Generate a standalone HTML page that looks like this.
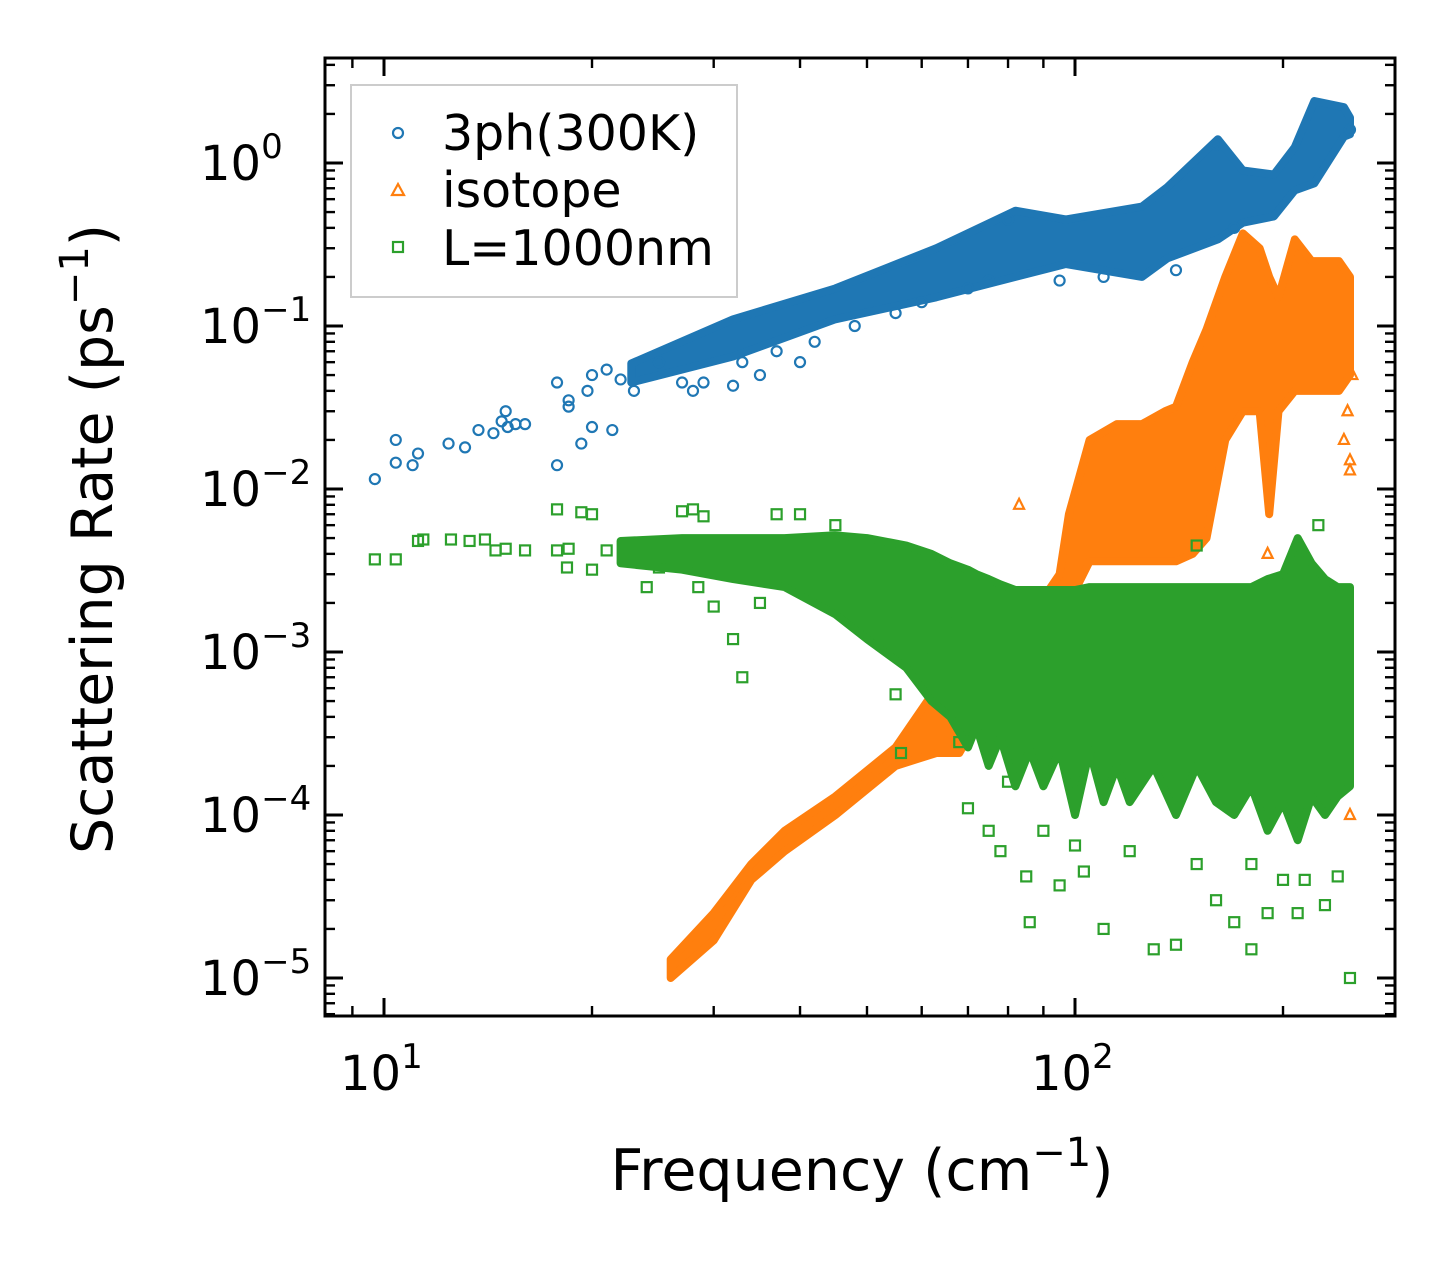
<!DOCTYPE html>
<html><head><meta charset="utf-8"><style>
html,body{margin:0;padding:0;background:#fff;}
svg{display:block;font-family:"DejaVu Sans","Liberation Sans",sans-serif;}
</style></head><body>
<svg id="chart" width="1455" height="1265" viewBox="0 0 1455 1265">
<rect x="0" y="0" width="1455" height="1265" fill="#fff"/>
<g id="bands"></g>
<g id="points"></g>
<g id="axes"></g>
<text x="862" y="1190" font-size="57" text-anchor="middle">Frequency (cm<tspan dy="-24" font-size="40">−1</tspan><tspan dy="24">)</tspan></text>
<text transform="translate(112,539) rotate(-90)" font-size="57" text-anchor="middle">Scattering Rate (ps<tspan dy="-24" font-size="40">−1</tspan><tspan dy="24">)</tspan></text>
<g>
<rect x="351" y="85" width="386" height="212" fill="#fff" fill-opacity="0.8" stroke="#ccc" stroke-width="2"/>
<circle cx="398" cy="133" r="5" fill="none" stroke="#1f77b4" stroke-width="2.2"/>
<text x="442" y="150" font-size="49">3ph(300K)</text>
<path d="M392,195 L398,184 L404,195 Z" fill="none" stroke="#ff7f0e" stroke-width="2.2"/>
<text x="442" y="207" font-size="49">isotope</text>
<rect x="393" y="242" width="10" height="10" fill="none" stroke="#2ca02c" stroke-width="2.2"/>
<text x="442" y="265" font-size="49">L=1000nm</text>
</g>
</svg>
<script>
// ----- data -----
const blueBandF = [22.8,32,45,63,82,97,125,136,161,175,194,208,222,245,250];
const blueBandLo = [0.045,0.065,0.11,0.15,0.2,0.24,0.2,0.26,0.34,0.43,0.47,0.68,0.75,1.45,1.5];
const blueBandHi = [0.059,0.11,0.17,0.3,0.51,0.45,0.54,0.71,1.4,0.9,0.85,1.25,2.4,2.2,1.9];
const orangeBandF = [26,30,34,38,45,55,63,68,75,85,95,98,105,115,125,135,140,148,155,165,175,185,191,197,208,220,241,250];
const orangeBandLo = [1e-5,1.7e-5,4e-5,6e-5,1e-4,2e-4,2.4e-4,2.4e-4,5e-4,8e-4,2e-3,2e-3,3.6e-3,3.6e-3,3.6e-3,3.6e-3,3.6e-3,4e-3,5e-3,0.02,0.03,0.03,0.007,0.03,0.04,0.04,0.04,0.05];
const orangeBandHi = [1.3e-5,2.5e-5,5e-5,8e-5,1.3e-4,2.6e-4,6e-4,8e-4,1e-3,1.5e-3,3e-3,7e-3,0.02,0.025,0.025,0.03,0.032,0.06,0.095,0.2,0.37,0.3,0.2,0.15,0.34,0.25,0.25,0.2];
const greenBandF = [22,27,32,38,45,50,57,62,66,70,72,75,78,82,86,90,95,100,105,110,115,120,130,140,150,160,170,180,190,200,210,220,230,240,250];
const greenBandLo = [3.5e-3,3.2e-3,2.8e-3,2.5e-3,1.7e-3,1.2e-3,8e-4,5e-4,4e-4,2.6e-4,3.5e-4,2e-4,3e-4,1.5e-4,2.5e-4,1.5e-4,2.5e-4,1e-4,2.5e-4,1.2e-4,2e-4,1.2e-4,2e-4,1e-4,2e-4,1.2e-4,1e-4,1.5e-4,8e-5,1.2e-4,7e-5,1.3e-4,1e-4,1.3e-4,1.5e-4];
const greenBandHi = [4.8e-3,5e-3,5e-3,5e-3,5.2e-3,5e-3,4.5e-3,4e-3,3.5e-3,3.2e-3,3e-3,2.8e-3,2.6e-3,2.4e-3,2.4e-3,2.4e-3,2.4e-3,2.4e-3,2.5e-3,2.5e-3,2.5e-3,2.5e-3,2.5e-3,2.5e-3,2.5e-3,2.5e-3,2.5e-3,2.5e-3,2.8e-3,3e-3,5e-3,3.5e-3,2.8e-3,2.5e-3,2.5e-3];
const blueF = [9.7,10.4,10.4,11,11.2,12.4,13.1,13.7,14.4,14.8,15,15.1,15.5,16,17.8,17.8,18.5,18.5,19.3,19.7,20,20,21,21.4,22,23,25,27,28,29,32,33,35,37,40,42,48,55,60,70,75,80,95,110,140,160,170,250];
const blueV = [0.0115,0.02,0.0145,0.014,0.0165,0.019,0.018,0.023,0.022,0.026,0.03,0.024,0.025,0.025,0.014,0.045,0.035,0.032,0.019,0.04,0.024,0.05,0.054,0.023,0.047,0.04,0.06,0.045,0.04,0.045,0.043,0.06,0.05,0.07,0.06,0.08,0.1,0.12,0.14,0.17,0.19,0.45,0.19,0.2,0.22,1.3,0.4,1.6];
const orangeF = [83,190,250,250,248,245,250,252];
const orangeV = [8e-3,4e-3,0.015,0.013,0.03,0.02,1e-4,0.05];
const greenF = [9.7,10.4,11.2,11.4,12.5,13.3,14,14.5,15,16,17.8,17.8,18.4,18.5,19.3,20,20,21,24,25,27,28,28.5,29,30,32,33,35,37,40,45,50,55,56,60,65,68,70,75,78,80,85,86,90,95,100,103,110,120,130,140,150,160,170,180,190,200,210,215,230,240,250,150,180,225,205];
const greenV = [3.7e-3,3.7e-3,4.8e-3,4.9e-3,4.9e-3,4.8e-3,4.9e-3,4.2e-3,4.3e-3,4.2e-3,7.5e-3,4.2e-3,3.3e-3,4.3e-3,7.2e-3,3.2e-3,7e-3,4.2e-3,2.5e-3,3.3e-3,7.3e-3,7.5e-3,2.5e-3,6.8e-3,1.9e-3,1.2e-3,7e-4,2e-3,7e-3,7e-3,6e-3,1.3e-3,5.5e-4,2.4e-4,9e-4,1.5e-3,2.8e-4,1.1e-4,8e-5,6e-5,1.6e-4,4.2e-5,2.2e-5,8e-5,3.7e-5,6.5e-5,4.5e-5,2e-5,6e-5,1.5e-5,1.6e-5,5e-5,3e-5,2.2e-5,1.5e-5,2.5e-5,4e-5,2.5e-5,4e-5,2.8e-5,4.2e-5,1e-5,4.5e-3,5e-5,6e-3,2e-3];
const xTickVals = [10,100];
const xTickExp = ["1","2"];
const yTickVals = [1,0.1,0.01,0.001,1e-4,1e-5];
const yTickExp = ["0","−1","−2","−3","−4","−5"];

// ----- axes -----
const L=325,R=1395,T=58,B=1016;
const X0=384, DX=691, Y0=163, DY=163;
const xs = f => X0 + (Math.log10(f)-1)*DX;
const ys = v => Y0 - Math.log10(v)*DY;
const NS="http://www.w3.org/2000/svg";
function mk(tag, parent){const e=document.createElementNS(NS,tag);parent.appendChild(e);return e;}
const bands=document.getElementById('bands'), pts=document.getElementById('points'), axes=document.getElementById('axes');

function band(F,Lo,Hi,color,name){
  let d='M'+F.map((f,i)=>xs(f).toFixed(1)+','+ys(Hi[i]).toFixed(1)).join(' L');
  for(let i=F.length-1;i>=0;i--) d+=' L'+xs(F[i]).toFixed(1)+','+ys(Lo[i]).toFixed(1);
  d+=' Z';
  const p=mk('path',bands);
  p.setAttribute('d',d);p.setAttribute('fill',color);p.setAttribute('stroke',color);p.setAttribute('stroke-width','8');p.setAttribute('stroke-linejoin','round');
  
  
}
function circles(F,V){F.forEach((f,i)=>{const c=mk('circle',pts);c.setAttribute('cx',xs(f));c.setAttribute('cy',ys(V[i]));c.setAttribute('r',5);c.setAttribute('fill','none');c.setAttribute('stroke','#1f77b4');c.setAttribute('stroke-width','2.2');
  
  });}
function tris(F,V){F.forEach((f,i)=>{const x=xs(f),y=ys(V[i]);const c=mk('path',pts);c.setAttribute('d',`M${x-5},${y+4} L${x},${y-6} L${x+5},${y+4} Z`);c.setAttribute('fill','none');c.setAttribute('stroke','#ff7f0e');c.setAttribute('stroke-width','2.2');
  
  });}
function squares(F,V){F.forEach((f,i)=>{const c=mk('rect',pts);c.setAttribute('x',xs(f)-5);c.setAttribute('y',ys(V[i])-5);c.setAttribute('width',10);c.setAttribute('height',10);c.setAttribute('fill','none');c.setAttribute('stroke','#2ca02c');c.setAttribute('stroke-width','2.2');
  
  });}

band(blueBandF,blueBandLo,blueBandHi,'#1f77b4','3ph-band');
circles(blueF,blueV);
band(orangeBandF,orangeBandLo,orangeBandHi,'#ff7f0e','isotope-band');
tris(orangeF,orangeV);
band(greenBandF,greenBandLo,greenBandHi,'#2ca02c','boundary-band');
squares(greenF,greenV);

function line(x1,y1,x2,y2,w,name){const l=mk('line',axes);l.setAttribute('x1',x1);l.setAttribute('y1',y1);l.setAttribute('x2',x2);l.setAttribute('y2',y2);l.setAttribute('stroke','#000');l.setAttribute('stroke-width',w);
  
  }
for(let dec=1;dec<=100;dec*=10){for(let m=2;m<=9;m++){const f=dec*m;const x=xs(f);if(x>L&&x<R){line(x,B,x,B-10,2.4,'x-minor-tick');line(x,T,x,T+10,2.4,'x-minor-tick');}}}
for(let e=-6;e<=0;e++){for(let m=2;m<=9;m++){const v=m*Math.pow(10,e);const y=ys(v);if(y>T&&y<B){line(L,y,L+10,y,2.4,'y-minor-tick');line(R,y,R-10,y,2.4,'y-minor-tick');}}}
xTickVals.forEach((v,i)=>{const x=xs(v);line(x,B,x,B-18,3,'x-major-tick');line(x,T,x,T+18,3,'x-major-tick');
  const t=mk('text',axes);t.setAttribute('x',x-44);t.setAttribute('y',1090);t.setAttribute('font-size','48');
  t.innerHTML='10<tspan dy="-22" font-size="34">'+xTickExp[i]+'</tspan>';
  
  });
yTickVals.forEach((v,i)=>{const y=ys(v);line(L,y,L+18,y,3,'y-major-tick');line(R,y,R-18,y,3,'y-major-tick');
  const t=mk('text',axes);t.setAttribute('x',200);t.setAttribute('y',y+17);t.setAttribute('font-size','48');
  t.innerHTML='10<tspan dy="-22" font-size="34">'+yTickExp[i]+'</tspan>';
  
  });
const fr=mk('rect',axes);fr.setAttribute('x',L);fr.setAttribute('y',T);fr.setAttribute('width',R-L);fr.setAttribute('height',B-T);fr.setAttribute('fill','none');fr.setAttribute('stroke','#000');fr.setAttribute('stroke-width','3');


</script>
</body></html>
